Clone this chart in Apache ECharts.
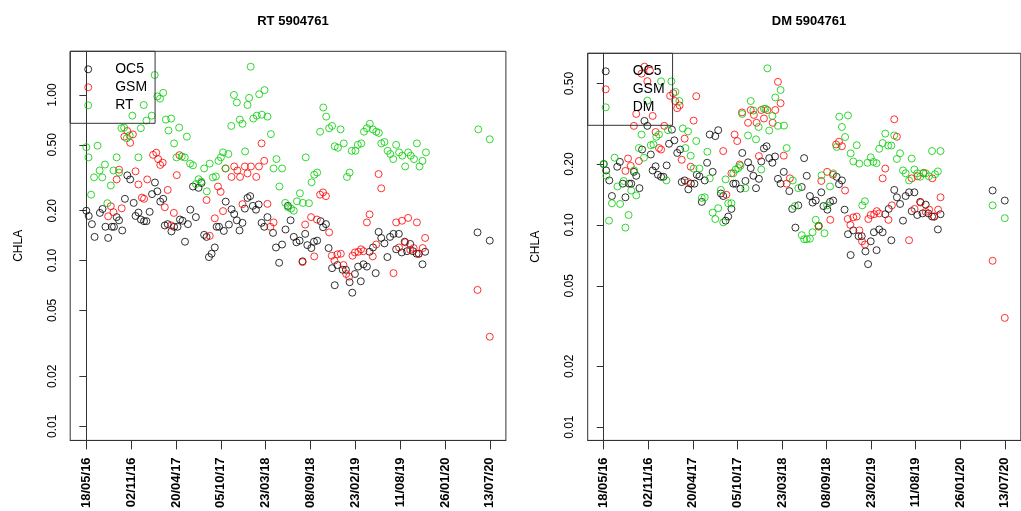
<!DOCTYPE html>
<html>
<head>
<meta charset="utf-8">
<script src="https://cdn.jsdelivr.net/npm/echarts@6/dist/echarts.min.js"></script>
<style>
html,body{margin:0;padding:0;background:#fff;}
#chart{width:1021px;height:511px;}
</style>
</head>
<body>
<div id="chart"></div>
<script>
// x values are days since 18/05/2016
const xTickDays = [0, 168.56, 337.11, 505.67, 674.22, 842.78, 1011.33, 1179.89, 1348.44, 1517];
const xTickLabels = ['18/05/16','02/11/16','20/04/17','05/10/17','23/03/18','08/09/18','23/02/19','11/08/19','26/01/20','13/07/20'];
const yTicksLeft = [0.01, 0.02, 0.05, 0.1, 0.2, 0.5, 1];
const yTicksRight = [0.01, 0.02, 0.05, 0.1, 0.2, 0.5];

const oc5 = [[0,.200],[9,.186],[21,.166],[31,.139],[51,.194],[61,.205],[72,.160],[82,.137],[96,.160],[104,.160],[114,.183],[123,.175],[135,.152],[145,.236],[154,.327],[165,.309],[178,.223],[185,.186],[196,.195],[205,.177],[217,.173],[226,.173],[238,.197],[247,.252],[258,.296],[267,.262],[278,.227],[289,.236],[295,.163],[306,.166],[320,.150],[330,.160],[343,.160],[352,.177],[362,.174],[371,.130],[382,.166],[391,.203],[401,.280],[412,.183],[422,.275],[433,.294],[443,.143],[452,.139],[461,.105],[471,.110],[483,.120],[490,.160],[499,.160],[517,.151],[524,.227],[536,.165],[546,.204],[556,.191],[566,.175],[576,.152],[587,.169],[596,.206],[606,.239],[616,.245],[626,.214],[638,.203],[648,.218],[659,.169],[669,.160],[681,.183],[702,.147],[713,.120],[725,.097],[736,.125],[749,.154],[758,.214],[768,.175],[780,.139],[790,.129],[802,.132],[813,.099],[823,.145],[831,.124],[846,.119],[856,.130],[868,.132],[881,.173],[890,.159],[901,.166],[911,.119],[924,.090],[934,.071],[944,.094],[964,.088],[976,.088],[990,.074],[1000,.064],[1010,.083],[1022,.092],[1032,.075],[1042,.095],[1055,.092],[1065,.113],[1078,.120],[1088,.084],[1099,.149],[1109,.137],[1121,.127],[1132,.105],[1142,.139],[1155,.145],[1165,.117],[1175,.145],[1186,.112],[1197,.130],[1206,.114],[1218,.126],[1228,.114],[1242,.110],[1250,.110],[1264,.095],[1274,.113],[1471,.148],[1517,.132]];

const gsm = [[82,.185],[92,.213],[102,.196],[114,.309],[123,.354],[133,.207],[143,.56],[154,.606],[165,.514],[175,.578],[185,.346],[196,.288],[209,.24],[217,.236],[229,.309],[251,.435],[263,.448],[270,.41],[278,.378],[287,.39],[295,.21],[306,.267],[319,.163],[329,.194],[340,.328],[350,.433],[452,.232],[464,.141],[483,.18],[495,.28],[505,.26],[514,.199],[523,.36],[546,.32],[556,.37],[568,.35],[578,.32],[587,.219],[596,.37],[606,.336],[619,.37],[639,.32],[649,.37],[659,.51],[669,.40],[681,.22],[692,.16],[704,.17],[813,.098],[823,.165],[845,.183],[857,.106],[867,.177],[879,.25],[890,.258],[901,.245],[913,.148],[923,.107],[933,.10],[944,.109],[957,.110],[967,.094],[977,.083],[988,.080],[1001,.107],[1010,.112],[1023,.113],[1033,.117],[1042,.114],[1055,.17],[1065,.19],[1077,.106],[1090,.125],[1099,.333],[1109,.273],[1155,.084],[1165,.17],[1176,.12],[1187,.174],[1199,.129],[1210,.181],[1218,.116],[1231,.119],[1243,.17],[1250,.11],[1265,.119],[1274,.137],[1471,.0665],[1517,.0347]];

const rt = [[0,.484],[8,.42],[18,.25],[29,.318],[42,.494],[50,.35],[60,.318],[70,.38],[79,.222],[92,.284],[102,.35],[114,.42],[123,.34],[132,.63],[142,.635],[152,.548],[163,.57],[173,.75],[196,.42],[205,.63],[216,.87],[226,.70],[246,.75],[257,1.32],[267,.98],[277,.95],[289,1.03],[299,.71],[309,.61],[319,.72],[330,.51],[339,.42],[349,.635],[359,.425],[370,.42],[378,.56],[390,.385],[401,.376],[412,.29],[422,.31],[432,.30],[443,.36],[453,.262],[464,.385],[476,.318],[487,.322],[497,.40],[506,.42],[514,.45],[524,.36],[534,.44],[545,.65],[555,1.0],[566,.90],[577,.71],[587,.67],[597,.456],[606,.87],[612,.96],[618,1.48],[628,.72],[641,.75],[650,1.01],[660,.76],[670,1.07],[681,.74],[694,.58],[704,.36],[715,.41],[726,.28],[736,.36],[748,.223],[758,.21],[770,.206],[780,.20],[792,.228],[803,.255],[814,.223],[825,.42],[837,.222],[847,.297],[857,.33],[868,.34],[879,.60],[891,.84],[902,.74],[913,.63],[924,.65],[934,.49],[946,.48],[956,.62],[968,.51],[980,.32],[990,.34],[998,.46],[1012,.46],[1021,.50],[1034,.51],[1044,.60],[1055,.63],[1066,.67],[1077,.62],[1090,.60],[1100,.59],[1109,.51],[1121,.52],[1133,.46],[1143,.44],[1154,.41],[1165,.50],[1176,.45],[1188,.43],[1199,.37],[1210,.45],[1220,.43],[1232,.41],[1243,.51],[1253,.37],[1264,.40],[1277,.45],[1474,.62],[1517,.54]];

const dm = [[0,.20],[10,.175],[20,.105],[31,.128],[41,.215],[52,.155],[62,.127],[75,.165],[82,.097],[94,.112],[104,.148],[115,.186],[123,.140],[133,.24],[143,.28],[152,.215],[165,.412],[178,.248],[188,.25],[199,.273],[209,.28],[217,.513],[237,.166],[243,.294],[256,.513],[271,.455],[286,.41],[299,.30],[309,.24],[319,.29],[329,.22],[340,.19],[350,.26],[362,.19],[371,.136],[382,.137],[392,.23],[401,.17],[412,.115],[422,.107],[433,.121],[443,.149],[452,.103],[461,.168],[471,.128],[483,.128],[490,.18],[499,.188],[509,.191],[517,.196],[524,.354],[536,.152],[546,.277],[556,.41],[566,.368],[576,.265],[586,.305],[596,.188],[606,.375],[612,.375],[619,.595],[626,.293],[638,.346],[649,.427],[659,.309],[669,.465],[682,.31],[692,.24],[715,.166],[723,.124],[736,.152],[749,.089],[758,.085],[768,.085],[780,.0855],[790,.092],[802,.106],[813,.099],[824,.176],[835,.091],[845,.125],[856,.155],[868,.180],[881,.243],[891,.343],[901,.305],[913,.272],[924,.348],[934,.226],[944,.206],[957,.248],[967,.201],[978,.125],[988,.131],[998,.203],[1010,.216],[1020,.205],[1032,.202],[1042,.238],[1055,.254],[1065,.283],[1076,.247],[1088,.247],[1099,.277],[1109,.212],[1121,.226],[1132,.186],[1142,.180],[1155,.166],[1165,.213],[1175,.188],[1186,.180],[1197,.173],[1209,.18],[1218,.18],[1230,.174],[1242,.232],[1253,.178],[1264,.184],[1274,.232],[1471,.125],[1517,.108]];

const FONT = '"Liberation Sans", Arial, sans-serif';
const COLORS = {OC5: '#000000', GSM: '#FF0000', RT: '#00CD00', DM: '#00CD00'};

function xLabel(v) {
  const i = xTickDays.findIndex(d => Math.abs(d - v) < 0.5);
  return i >= 0 ? xTickLabels[i] : '';
}
function makeX(gi) {
  return {
    gridIndex: gi, type: 'value', min: -60.68, max: 1577.68,
    axisLine: {show: true, lineStyle: {color: '#333', width: 1}},
    splitLine: {show: false},
    axisTick: {show: true, customValues: xTickDays, length: 9, lineStyle: {color: '#333'}},
    axisLabel: {customValues: xTickDays, rotate: 90, formatter: xLabel, fontFamily: FONT,
      fontWeight: 'bold', fontSize: 13, color: '#000', margin: 17}
  };
}
function makeY(gi, min, max, ticks) {
  return {
    gridIndex: gi, type: 'log', logBase: 10, min: min, max: max,
    name: 'CHLA', nameLocation: 'middle', nameGap: 46,
    nameTextStyle: {fontFamily: FONT, fontSize: 12, color: '#000'},
    axisLine: {show: true, lineStyle: {color: '#333', width: 1}},
    splitLine: {show: false}, minorTick: {show: false},
    axisTick: {show: true, customValues: ticks, length: 7, lineStyle: {color: '#333'}},
    axisLabel: {customValues: ticks, rotate: 90, formatter: v => Number(v).toFixed(2),
      fontFamily: FONT, fontSize: 12, color: '#000', margin: 12}
  };
}
function makeSeries(name, data, gi) {
  return {
    name: name, type: 'scatter', xAxisIndex: gi, yAxisIndex: gi, data: data,
    symbol: 'circle', symbolSize: 7,
    itemStyle: {color: 'rgba(0,0,0,0)', borderColor: COLORS[name], borderWidth: 1},
    emphasis: {disabled: true}, silent: true
  };
}
function makeLegend(names, left, top) {
  return {
    data: names, orient: 'vertical', left: left, top: top,
    padding: [9, 8, 9, 14], itemGap: 0, itemWidth: 14, itemHeight: 7,
    borderColor: '#333', borderWidth: 1, backgroundColor: 'transparent',
    selectedMode: false,
    itemStyle: {color: 'rgba(0,0,0,0)', borderColor: 'inherit', borderWidth: 1},
    textStyle: {fontFamily: FONT, fontSize: 14, lineHeight: 18, color: '#000', padding: [0, 0, 0, 15]}
  };
}

const chart = echarts.init(document.getElementById('chart'), null, {renderer: 'canvas'});
chart.setOption({
  animation: false,
  backgroundColor: '#fff',
  title: [
    {text: 'RT 5904761', left: 288, top: 10, textAlign: 'center',
     textStyle: {fontFamily: FONT, fontSize: 13, fontWeight: 'bold', color: '#000'}},
    {text: 'DM 5904761', left: 804, top: 10, textAlign: 'center',
     textStyle: {fontFamily: FONT, fontSize: 13, fontWeight: 'bold', color: '#000'}}
  ],
  legend: [makeLegend(['OC5','GSM','RT'], 70.2, 51.3), makeLegend(['OC5','GSM','DM'], 587.7, 53.3)],
  grid: [
    {left: 70.2, top: 51.3, width: 435.7, height: 392, show: true, borderColor: '#333', borderWidth: 1, backgroundColor: 'transparent'},
    {left: 587.7, top: 53.3, width: 433.1, height: 389, show: true, borderColor: '#333', borderWidth: 1, backgroundColor: 'transparent'}
  ],
  xAxis: [makeX(0), makeX(1)],
  yAxis: [makeY(0, 0.00821, 1.835, yTicksLeft), makeY(1, 0.0086, 0.706, yTicksRight)],
  series: [
    makeSeries('OC5', oc5, 0), makeSeries('GSM', gsm, 0), makeSeries('RT', rt, 0),
    makeSeries('OC5', oc5, 1), makeSeries('GSM', gsm, 1), makeSeries('DM', dm, 1)
  ]
});
</script>
</body>
</html>
